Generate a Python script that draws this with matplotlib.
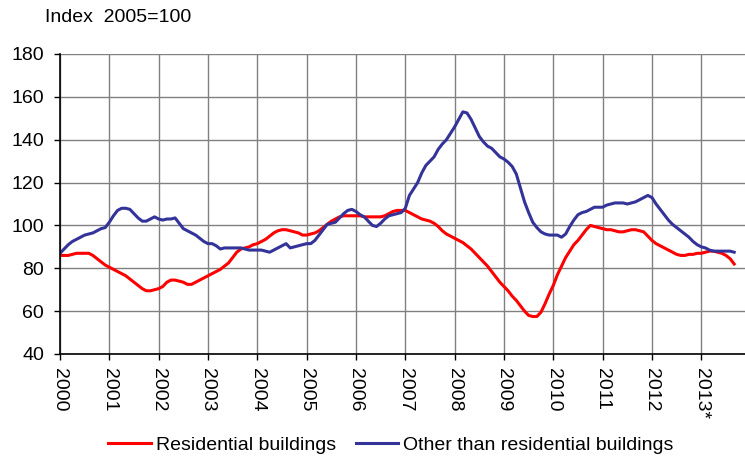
import numpy as np
import matplotlib.pyplot as plt

plt.rcParams['font.family'] = ['Liberation Sans', 'DejaVu Sans']

# ── data: monthly index, 2005=100, Jan 2000 .. Sep 2013 ─────────────────────

year_labels = ["2000", "2001", "2002", "2003", "2004", "2005", "2006",
               "2007", "2008", "2009", "2010", "2011", "2012", "2013*"]

residential = [
    86, 86, 86, 86.5, 87, 87, 87, 87, 86, 84.5, 83, 81.5,                     # 2000
    80.5, 79.5, 78.5, 77.5, 76.5, 75, 73.5, 72, 70.5, 69.5, 69.5, 70,         # 2001
    70.5, 71.5, 73.5, 74.5, 74.5, 74, 73.5, 72.5, 72.5, 73.5, 74.5, 75.5,     # 2002
    76.5, 77.5, 78.5, 79.5, 81, 82.5, 85, 87.5, 89, 89.5, 90, 91,             # 2003
    91.5, 92.5, 93.5, 95, 96.5, 97.5, 98, 98, 97.5, 97, 96.5, 95.5,           # 2004
    95.5, 96, 96.5, 97.5, 99, 100.5, 102, 103, 104, 104.5, 104.5, 104.5,      # 2005
    104.5, 104.5, 104, 104, 104, 104, 104, 104.5, 105.5, 106.5, 107, 107,     # 2006
    107, 106, 105, 104, 103, 102.5, 102, 101, 99.5, 97.5, 96, 95,             # 2007
    94, 93, 92, 90.5, 89, 87, 85, 83, 81, 78.5, 76, 73.5,                     # 2008
    71.5, 69.5, 67, 65, 62.5, 60, 58, 57.5, 57.5, 59.5, 63.5, 68,             # 2009
    72, 77, 81, 85, 88, 91, 93, 95.5, 98, 100, 99.5, 99,                      # 2010
    98.5, 98, 98, 97.5, 97, 97, 97.5, 98, 98, 97.5, 97, 95,                   # 2011
    93, 91.5, 90.5, 89.5, 88.5, 87.5, 86.5, 86, 86, 86.5, 86.5, 87,           # 2012
    87, 87.5, 88, 88, 87.5, 87, 86, 84.5, 82,                                 # 2013
]

other = [
    87, 89, 91, 92.5, 93.5, 94.5, 95.5, 96, 96.5, 97.5, 98.5, 99,             # 2000
    101.5, 104.5, 107, 108, 108, 107.5, 105.5, 103.5, 102, 102, 103, 104,     # 2001
    103, 102.5, 103, 103, 103.5, 101, 98.5, 97.5, 96.5, 95.5, 94, 92.5,       # 2002
    91.5, 91.5, 90.5, 89, 89.5, 89.5, 89.5, 89.5, 89.5, 89, 88.5, 88.5,       # 2003
    88.5, 88.5, 88, 87.5, 88.5, 89.5, 90.5, 91.5, 89.5, 90, 90.5, 91,         # 2004
    91.5, 91.5, 93, 95.5, 98, 100.5, 101, 101.5, 103.5, 105.5, 107, 107.5,    # 2005
    106.5, 105, 104, 102, 100, 99.5, 101, 103, 104.5, 105, 105.5, 106,        # 2006
    108, 114, 117, 120, 124.5, 128, 130, 132, 135.5, 138, 140, 143,           # 2007
    146, 149.5, 153, 152.5, 149.5, 145.5, 141.5, 139, 137, 136, 134, 132,     # 2008
    131, 129.5, 127.5, 124, 117.5, 111, 106, 101.5, 99, 97, 96, 95.5,         # 2009
    95.5, 95.5, 94.5, 96, 99.5, 102.5, 105, 106, 106.5, 107.5, 108.5, 108.5,  # 2010
    108.5, 109.5, 110, 110.5, 110.5, 110.5, 110, 110.5, 111, 112, 113, 114,   # 2011
    113, 110, 107.5, 105, 102.5, 100.5, 99, 97.5, 96, 94.5, 92.5, 91,         # 2012
    90, 89.5, 88.5, 88, 88, 88, 88, 88, 87.5,                                 # 2013
]

x = np.arange(len(residential)) / 12.0

# ── figure ──────────────────────────────────────────────────────────────────

W, H = 745, 457
fig = plt.figure(figsize=(W / 100, H / 100), dpi=100)
ax = fig.add_axes([60 / W, 1 - 354 / H, 685 / W, 300 / H])

ax.plot(x, residential, color="#ff0000", lw=2.2, label="Residential buildings")
ax.plot(x, other, color="#333399", lw=2.2, label="Other than residential buildings")

ax.set_xlim(0, 685 / 49.33)
ax.set_ylim(40, 180)
ax.set_yticks(range(40, 181, 20))
ax.set_xticks(range(len(year_labels)))
ax.set_xticklabels(year_labels, rotation=270, ha="center", va="top")

ax.grid(color="#808080", lw=1.0)
ax.set_axisbelow(True)
for s in ["top", "right"]:
    ax.spines[s].set_visible(False)
for s in ["left", "bottom"]:
    ax.spines[s].set_color("black")
    ax.spines[s].set_linewidth(1.2)
ax.tick_params(axis="both", direction="out", length=4.5, width=1,
               labelsize=14, colors="black")
ax.tick_params(axis="y", pad=7)
ax.tick_params(axis="x", pad=5.5)

fig.text(45 / W, 1 - 18 / H, "Index  2005=100", fontsize=14, va="center", ha="left")

fig.legend(loc="center", bbox_to_anchor=(391 / W, 1 - 445 / H), ncol=2,
           frameon=False, fontsize=14, handlelength=2.2, handletextpad=0.25,
           columnspacing=1.0, borderaxespad=0)

fig.savefig("out.png", dpi=100)
